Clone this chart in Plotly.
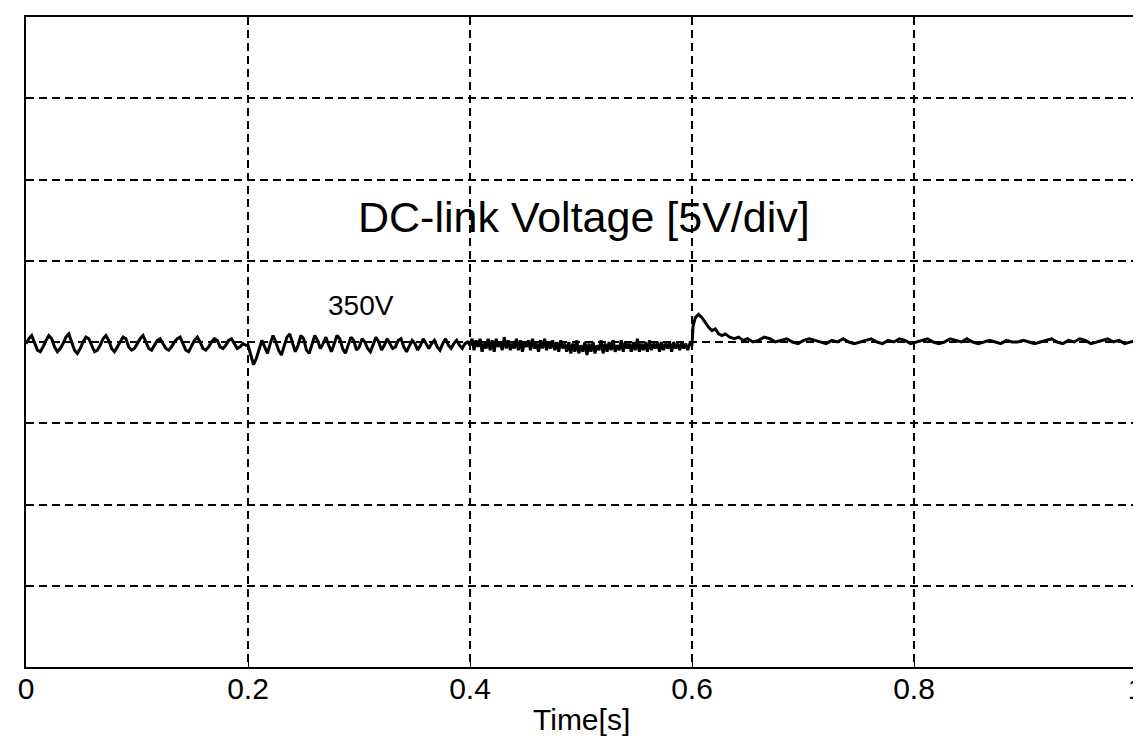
import numpy as np
import plotly.graph_objects as go

# ---------------- data ----------------
x_ticks = [0, 0.2, 0.4, 0.6, 0.8, 1.0]
x_tick_labels = ["0", "0.2", "0.4", "0.6", "0.8", "1"]

# 0.0 - 0.2 s : low-frequency ripple
seg_a_v = [349.9, 350.2, 350.4, 350.0, 349.5, 349.4, 349.7,
           350.1, 350.4, 350.2, 349.7, 349.4, 349.6, 349.9,
           350.3, 350.5, 350.0, 349.5, 349.3, 349.6, 350.0,
           350.3, 350.2, 349.8, 349.4, 349.5, 349.8,
           350.2, 350.4, 350.1, 349.6, 349.4, 349.7, 350.0,
           350.3, 350.2, 349.7, 349.5, 349.6, 349.9,
           350.2, 350.4, 350.0, 349.6, 349.5, 349.8,
           350.1, 350.2, 349.9, 349.6, 349.5, 349.7, 350.0,
           350.2, 350.3, 349.9, 349.5, 349.4, 349.8,
           350.1, 350.3, 350.0, 349.6, 349.5, 349.7,
           350.0, 350.2, 350.1, 349.7, 349.6, 349.8,
           350.1, 350.2, 349.9, 349.6, 349.7, 349.9, 349.8]

# 0.2 - 0.4 s : dip at 0.2 s then faster ripple
seg_b_v = [349.8, 349.2, 348.6, 349.0, 349.6, 350.1, 349.7, 349.3, 349.9, 350.4,
           350.0, 349.5, 349.2, 349.8, 350.3, 350.5, 349.9, 349.4, 349.8, 350.4,
           350.2, 349.5, 349.3, 349.9, 350.4, 350.1, 349.6, 349.9, 350.3, 349.8,
           349.4, 349.9, 350.4, 350.2, 349.6, 349.3, 349.8, 350.3, 350.1, 349.5,
           349.7, 350.2, 350.0, 349.6, 349.4, 349.9, 350.3, 350.0, 349.5, 349.8,
           350.2, 349.9, 349.6, 349.7, 350.1, 350.2, 349.7, 349.4, 349.8, 350.1,
           349.9, 349.5, 349.8, 350.2, 349.9, 349.6, 349.9, 350.1, 349.7, 349.5,
           349.9, 350.2, 349.8, 349.6, 349.9, 350.1, 349.8, 349.6, 349.9, 350.0]

# 0.4 - 0.6 s : dense small noise (thick band)
seg_c_v = [349.8, 350.2, 349.5, 350.1, 349.7, 350.2, 349.4, 349.9, 349.6, 350.2,
           349.5, 350.1, 349.4, 350.2, 349.7, 350.0, 349.5, 350.3, 349.6, 350.1,
           349.5, 349.9, 349.6, 350.2, 349.5, 350.1, 349.4, 350.0, 349.7, 350.1,
           349.5, 350.2, 349.6, 349.9, 349.4, 350.1, 349.6, 350.2, 349.5, 350.0,
           349.6, 350.1, 349.5, 350.0, 349.4, 350.1, 349.6, 349.9, 349.4, 350.0,
           349.3, 349.9, 349.4, 350.1, 349.3, 349.8, 349.4, 350.0, 349.2, 349.9,
           349.4, 350.0, 349.3, 349.8, 349.5, 350.1, 349.3, 349.9, 349.4, 350.0,
           349.5, 350.1, 349.4, 349.8, 349.5, 350.1, 349.4, 350.0, 349.6, 349.9,
           349.4, 350.0, 349.5, 350.2, 349.4, 349.9, 349.5, 350.0, 349.4, 350.1,
           349.5, 349.9, 349.6, 350.0, 349.4, 350.0, 349.5, 349.9, 349.6, 350.0,
           349.4, 350.0, 349.6, 349.9, 349.5, 350.0, 349.6, 349.9, 349.5, 349.9]

# 0.6 s step: overshoot and decay
seg_d_t = [0.600, 0.601, 0.603, 0.606, 0.609, 0.612, 0.615, 0.618, 0.621,
           0.624, 0.627, 0.630, 0.634, 0.638, 0.642, 0.646, 0.650, 0.655]
seg_d_v = [349.8, 351.0, 351.5, 351.7, 351.5, 351.2, 350.9, 350.7, 350.8,
           350.5, 350.4, 350.5, 350.3, 350.2, 350.3, 350.1, 350.2, 350.0]

# 0.66 - 1.0 s : settled, small ripple
seg_e_v = [350.1, 350.3, 350.2, 350.0, 350.1, 350.2, 350.0, 349.9, 350.1, 350.2,
           350.1, 350.0, 349.9, 350.1, 350.0, 350.2, 350.0, 349.9, 350.0, 350.1,
           350.2, 350.0, 349.9, 350.1, 350.0, 350.2, 350.1, 349.9, 350.0, 350.1,
           350.2, 350.0, 349.9, 350.0, 350.2, 350.1, 350.0, 350.2, 350.0, 349.9,
           350.0, 350.1, 350.0, 349.9, 350.1, 350.0, 350.0, 350.1, 350.0, 349.9,
           350.0, 350.1, 350.2, 350.0, 349.9, 350.1, 350.0, 350.2, 350.1, 349.9,
           350.0, 350.1, 350.2, 350.0, 350.1, 349.9, 350.0, 350.1]

# ---------------- assemble time base ----------------
t_all = np.concatenate([
    np.linspace(0.0, 0.198, len(seg_a_v)),
    np.linspace(0.2, 0.398, len(seg_b_v)),
    np.linspace(0.4, 0.598, len(seg_c_v)),
    np.array(seg_d_t),
    np.linspace(0.66, 1.0, len(seg_e_v)),
])
v_all = np.concatenate([seg_a_v, seg_b_v, seg_c_v, seg_d_v, seg_e_v])

FONT = "Liberation Sans, Arial, sans-serif"

fig = go.Figure()
fig.add_trace(go.Scatter(
    x=t_all, y=v_all, mode="lines",
    line=dict(color="black", width=3),
    showlegend=False, hoverinfo="skip",
))

fig.add_annotation(x=0.503, y=357.7, xref="paper", yref="y",
                   text="DC-link Voltage [5V/div]", showarrow=False,
                   font=dict(family=FONT, size=43, color="black"))
fig.add_annotation(x=0.27, y=352.25, xref="paper", yref="y",
                   text="350V", showarrow=False,
                   font=dict(family=FONT, size=28, color="black"))
fig.add_annotation(x=0.5, y=-0.052, xref="paper", yref="paper",
                   text="Time[s]", showarrow=False, yanchor="top",
                   font=dict(family=FONT, size=30, color="black"))

fig.update_xaxes(
    range=[0, 1], tickvals=x_ticks, ticktext=x_tick_labels,
    showgrid=True, gridcolor="black", gridwidth=1.6, griddash="8px,5px",
    showline=True, linecolor="black", linewidth=2, mirror=True,
    ticks="inside", ticklen=6, tickcolor="black",
    zeroline=False, ticklabelstandoff=-6, ticklabeloverflow="allow",
    tickfont=dict(family=FONT, size=30, color="black"),
)
fig.update_yaxes(
    range=[330, 370], dtick=5, tick0=330, showticklabels=False,
    showgrid=True, gridcolor="black", gridwidth=1.6, griddash="8px,5px",
    showline=True, linecolor="black", linewidth=2, mirror=True,
    zeroline=False,
)
# page body adds an 8px offset; margins compensate so the plot lands where the reference has it
fig.update_layout(
    width=1141, height=739,
    margin=dict(l=18, r=5, t=9, b=80),
    paper_bgcolor="white", plot_bgcolor="white",
)
fig.write_html("out.html")
